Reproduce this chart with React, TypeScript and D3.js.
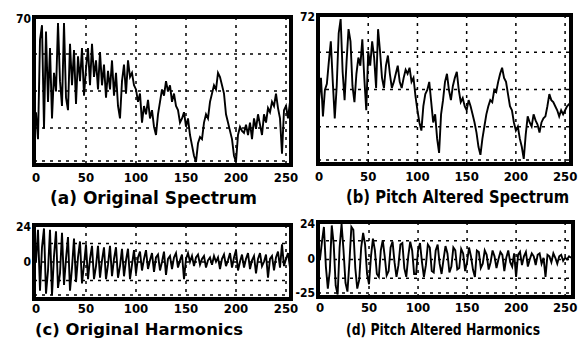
import React, { useRef, useEffect } from 'react';
import * as d3 from 'd3';

// frequency bins are sampled every 2 units, 0..256
const binStep = 2;
const xTicks = [0, 50, 100, 150, 200, 250];
const xTickLabels = ['0', '50', '100', '150', '200', '250'];

const origSpectrum = [
  25, 12, 60, 67, 17, 64, 30, 56, 22, 44, 35, 68, 40, 28, 68, 32,
  26, 58, 38, 55, 29, 52, 40, 56, 33, 46, 56, 38, 58, 42, 50, 36,
  54, 38, 48, 32, 45, 36, 50, 33, 44, 28, 22, 40, 48, 34, 50, 42,
  44, 38, 36, 30, 34, 20, 28, 24, 31, 22, 26, 18, 14, 24, 30, 36,
  33, 40, 35, 38, 30, 34, 28, 26, 20, 22, 25, 18, 22, 14, 9, 4,
  1, 10, 13, 12, 20, 24, 22, 30, 34, 38, 36, 44, 42, 38, 34, 24,
  20, 16, 12, 4, 1, 14, 18, 16, 15, 19, 14, 20, 12, 22, 17, 24,
  19, 14, 24, 20, 27, 25, 30, 28, 34, 27, 22, 5, 26, 28, 22, 30, 26
];

const alteredSpectrum = [
  31, 42, 23, 36, 39, 50, 60, 40, 22, 38, 64, 71, 45, 31, 50, 66,
  60, 38, 30, 44, 52, 48, 61, 42, 26, 55, 48, 60, 52, 37, 66, 55,
  42, 37, 48, 53, 44, 37, 40, 44, 48, 40, 37, 42, 46, 44, 47, 40,
  42, 33, 26, 20, 16, 28, 34, 36, 40, 30, 20, 24, 12, 5, 24, 31,
  40, 44, 36, 31, 38, 42, 45, 36, 30, 32, 28, 26, 31, 28, 24, 20,
  15, 8, 4, 12, 18, 24, 28, 31, 30, 36, 35, 40, 44, 47, 42, 40,
  34, 28, 26, 20, 16, 18, 12, 8, 2, 14, 23, 20, 18, 24, 21, 19,
  15, 20, 22, 23, 28, 34, 31, 30, 28, 26, 23, 26, 24, 26, 28, 29, 30
];

const origHarmonics = [
  0, 22, -20, 10, 23, -22, -6, 22, -23, 4, 21, -18, -8, 20, -16, 2,
  17, -20, -4, 16, -14, 3, 14, -15, -2, 12, -12, 2, 11, -12, -3, 11,
  -11, 1, 10, -12, -2, 11, -10, 2, 10, -11, -3, 9, -10, 1, 9, -12,
  -2, 8, -8, 3, 7, -6, 2, 8, -5, 1, 6, -7, 3, 5, -6, 0,
  7, -9, 2, 4, -5, 3, 6, -4, 1, 5, -12, 2, 6, 0, 4, -3,
  3, 5, -2, 2, 4, -4, 1, 3, -2, 4, 0, 3, -5, 2, 5, -3,
  1, 6, -4, 3, 8, -6, 0, 5, -4, 2, 6, -5, 1, 4, -8, 2,
  6, -3, 0, 5, -11, 2, 4, -6, 3, 7, -4, 12, -3, 2, 6, -4, 3
];

const alteredHarmonics = [
  0, 12, 22, -5, -20, -8, 23, 10, -18, -24, 8, 24, 6, -16, -22, -2,
  22, 20, -6, -20, -14, 8, 18, 10, -10, -17, 2, 14, 6, -10, -12, 6,
  13, 2, -11, -8, 8, 12, -2, -12, -4, 10, 11, -6, -12, 2, 12, 6,
  -10, -10, 6, 11, -2, -12, -4, 10, 8, -8, -9, 6, 10, -3, -10, 0,
  9, 4, -9, -5, 8, 6, -7, -6, 7, 4, -8, -2, 8, 2, -7, -12,
  6, 5, -6, -3, 6, 3, -7, -2, 6, 2, -6, 0, 5, 3, -8, 1,
  6, -2, -5, 4, -12, 3, 5, -4, 2, 5, -5, 0, 4, 2, -4, 3,
  4, -3, 1, -12, 3, 2, -2, 4, 1, -3, 2, 3, -1, 1, 0, 2, 1
];

const panelTitles = [
  '(a) Original Spectrum',
  '(b) Pitch Altered Spectrum',
  '(c) Original Harmonics',
  '(d) Pitch Altered Harmonics'
];
const yDomainA = [0, 70];
const yDomainB = [0, 72];
const yDomainHarm = [-25, 24];
const yLabelsA = [70];
const yLabelsB = [72];
const yLabelsC = [24, 0];
const yLabelsD = [24, 0, -25];

const panels = [
  { data: origSpectrum, yDomain: yDomainA, yLabels: yLabelsA, title: panelTitles[0],
    x0: 34, x1: 291, y0: 17, y1: 165, xr: [36, 292], tickY: 182, titleX: 50, titleW: 207, titleY: 204, titleSize: 17 },
  { data: alteredSpectrum, yDomain: yDomainB, yLabels: yLabelsB, title: panelTitles[1],
    x0: 318, x1: 571, y0: 15, y1: 164, xr: [319, 571], tickY: 181, titleX: 346, titleW: 223, titleY: 203, titleSize: 17 },
  { data: origHarmonics, yDomain: yDomainHarm, yLabels: yLabelsC, title: panelTitles[2],
    x0: 34, x1: 291, y0: 225, y1: 299, xr: [36, 292], tickY: 313, titleX: 35, titleW: 208, titleY: 335, titleSize: 16 },
  { data: alteredHarmonics, yDomain: yDomainHarm, yLabels: yLabelsD, title: panelTitles[3],
    x0: 318, x1: 573, y0: 222, y1: 297, xr: [320, 571], tickY: 312, titleX: 346, titleW: 194, titleY: 335, titleSize: 15 }
];

const font = '"DejaVu Sans Condensed", "Liberation Sans Narrow", sans-serif';

function App() {
  const svgRef = useRef(null);

  useEffect(() => {
    const svg = d3.select(svgRef.current);
    svg.selectAll('*').remove();

    svg.append('rect').attr('width', 582).attr('height', 342).attr('fill', '#fff');

    panels.forEach((p, pi) => {
      const g = svg.append('g');
      const xScale = d3.scaleLinear().domain([0, 256]).range(p.xr);
      const yScale = d3.scaleLinear().domain(p.yDomain).range([p.y1 - 1, p.y0 + 2]);

      // dotted grid
      const grid = g.append('g')
        .attr('stroke', '#000')
        .attr('stroke-width', 1.5)
        .attr('stroke-dasharray', '3,5');
      xTicks.slice(1).forEach(t => {
        grid.append('line')
          .attr('x1', xScale(t)).attr('x2', xScale(t))
          .attr('y1', p.y0).attr('y2', p.y1);
      });
      [0.25, 0.5, 0.75].forEach(f => {
        const y = p.y0 + (p.y1 - p.y0) * f;
        grid.append('line').attr('x1', p.x0).attr('x2', p.x1).attr('y1', y).attr('y2', y);
      });
      grid.append('line').attr('x1', p.x0).attr('x2', p.x1).attr('y1', p.y1 - 4).attr('y2', p.y1 - 4);

      const clipId = 'clip' + pi;
      g.append('clipPath').attr('id', clipId)
        .append('rect').attr('x', p.x0).attr('y', p.y0).attr('width', p.x1 - p.x0).attr('height', p.y1 - p.y0);

      const line = d3.line()
        .x((d, i) => xScale(i * binStep))
        .y(d => yScale(d));

      g.append('path')
        .datum(p.data)
        .attr('clip-path', 'url(#' + clipId + ')')
        .attr('fill', 'none')
        .attr('stroke', '#000')
        .attr('stroke-width', 1.9)
        .attr('stroke-linejoin', 'miter')
        .attr('d', line);

      // heavy frame
      g.append('rect')
        .attr('x', p.x0).attr('y', p.y0)
        .attr('width', p.x1 - p.x0).attr('height', p.y1 - p.y0)
        .attr('fill', 'none')
        .attr('stroke', '#000')
        .attr('stroke-width', 4);

      // x tick labels
      g.selectAll('text.xt')
        .data(xTicks)
        .join('text')
        .attr('class', 'xt')
        .attr('x', d => xScale(d))
        .attr('y', p.tickY)
        .attr('text-anchor', 'middle')
        .style('font-family', font)
        .style('font-weight', 'bold')
        .style('font-size', '13px')
        .text((d, i) => xTickLabels[i]);

      // y labels
      g.selectAll('text.yt')
        .data(p.yLabels)
        .join('text')
        .attr('class', 'yt')
        .attr('x', p.x0 - 3)
        .attr('y', d => Math.min(yScale(d) + 4, p.y1))
        .attr('text-anchor', 'end')
        .style('font-family', font)
        .style('font-weight', 'bold')
        .style('font-size', '12px')
        .text(d => String(d));

      g.append('text')
        .attr('x', p.titleX)
        .attr('y', p.titleY)
        .attr('textLength', p.titleW)
        .attr('lengthAdjust', 'spacingAndGlyphs')
        .style('font-family', font)
        .style('font-weight', 'bold')
        .style('font-size', p.titleSize + 'px')
        .text(p.title);
    });
  }, []);

  return (
    <div style={{ position: 'absolute', left: 0, top: 0, width: 582, height: 342 }}>
      <svg ref={svgRef} width={582} height={342}></svg>
    </div>
  );
}

export default App;
